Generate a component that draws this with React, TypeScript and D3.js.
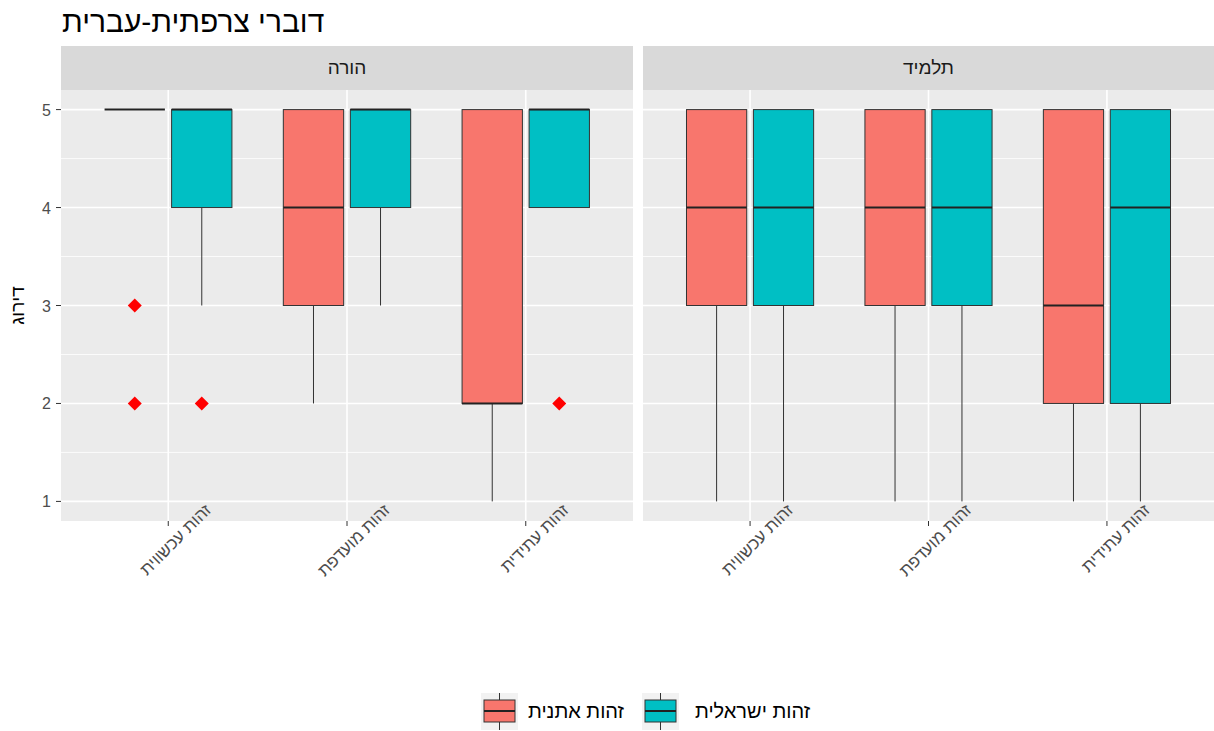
import React from "react";
import * as d3 from "d3";

// Facet (role) names, x categories and fill groups
const roles = ["הורה", "תלמיד"];
const identities = ["זהות עכשווית", "זהות מועדפת", "זהות עתידית"];
const groups = ["זהות אתנית", "זהות ישראלית"];
const groupColors = ["#F8766D", "#00BFC4"];
const yTicks = [1, 2, 3, 4, 5];

// Box summaries per identity: [lower whisker, Q1, median, Q3, upper whisker]
const parentEthnic = [
  [5, 5, 5, 5, 5],
  [2, 3, 4, 5, 5],
  [1, 2, 2, 5, 5],
];
const parentIsraeli = [
  [3, 4, 5, 5, 5],
  [3, 4, 5, 5, 5],
  [4, 4, 5, 5, 5],
];
const studentEthnic = [
  [1, 3, 4, 5, 5],
  [1, 3, 4, 5, 5],
  [1, 2, 3, 5, 5],
];
const studentIsraeli = [
  [1, 3, 4, 5, 5],
  [1, 3, 4, 5, 5],
  [1, 2, 4, 5, 5],
];
// Outlying ratings per identity
const parentEthnicOutliers = [[3, 2], [], []];
const parentIsraeliOutliers = [[2], [], [2]];
const studentEthnicOutliers = [[], [], []];
const studentIsraeliOutliers = [[], [], []];

const panelStats = [
  [parentEthnic, parentIsraeli],
  [studentEthnic, studentIsraeli],
];
const panelOutliers = [
  [parentEthnicOutliers, parentIsraeliOutliers],
  [studentEthnicOutliers, studentIsraeliOutliers],
];

const W = 1214;
const H = 731;
const FONT = "'Liberation Sans', Arial, sans-serif";
const panelX: [number, number][] = [
  [61, 633],
  [643, 1214],
];
const stripTop = 46;
const panelTop = 90;
const panelBottom = 521;

export default function App() {
  const y = d3.scaleLinear().domain([0.8, 5.2]).range([panelBottom, panelTop]);
  const minorY = [1.5, 2.5, 3.5, 4.5];
  const dodge = 0.75;
  const boxW = (dodge / 2) * 0.9;

  return (
    <svg
      width={W}
      height={H}
      style={{ position: "absolute", left: 0, top: 0, background: "#fff" }}
      fontFamily={FONT}
    >
      <text x={62} y={32} fontSize={30} fill="#000">
        דוברי צרפתית-עברית
      </text>

      {roles.map((role, p) => {
        const [x0, x1] = panelX[p];
        const x = d3.scaleLinear().domain([0.4, 3.6]).range([x0, x1]);
        const unit = x(1) - x(0);
        return (
          <g key={role}>
            <rect x={x0} y={stripTop} width={x1 - x0} height={panelTop - stripTop} fill="#D9D9D9" />
            <text
              x={(x0 + x1) / 2}
              y={(stripTop + panelTop) / 2 + 6}
              textAnchor="middle"
              fontSize={19}
              fill="#1A1A1A"
            >
              {role}
            </text>
            <rect x={x0} y={panelTop} width={x1 - x0} height={panelBottom - panelTop} fill="#EBEBEB" />
            {minorY.map((v) => (
              <line key={"mn" + v} x1={x0} x2={x1} y1={y(v)} y2={y(v)} stroke="#fff" strokeWidth={0.8} />
            ))}
            {yTicks.map((v) => (
              <line key={"mj" + v} x1={x0} x2={x1} y1={y(v)} y2={y(v)} stroke="#fff" strokeWidth={1.6} />
            ))}
            {identities.map((id, i) => (
              <line
                key={"vx" + i}
                x1={x(i + 1)}
                x2={x(i + 1)}
                y1={panelTop}
                y2={panelBottom}
                stroke="#fff"
                strokeWidth={1.6}
              />
            ))}

            {identities.map((id, i) =>
              groups.map((g, gi) => {
                const s = panelStats[p][gi][i];
                const cx = x(i + 1) + (gi === 0 ? -1 : 1) * (dodge / 4) * unit;
                const bw = boxW * unit;
                const [lo, q1, med, q3, hi] = s;
                return (
                  <g key={id + g}>
                    <line x1={cx} x2={cx} y1={y(hi)} y2={y(q3)} stroke="#333" strokeWidth={1} />
                    <line x1={cx} x2={cx} y1={y(q1)} y2={y(lo)} stroke="#333" strokeWidth={1} />
                    <rect
                      x={cx - bw / 2}
                      y={y(q3)}
                      width={bw}
                      height={y(q1) - y(q3)}
                      fill={groupColors[gi]}
                      stroke="#333"
                      strokeWidth={1}
                    />
                    <line
                      x1={cx - bw / 2}
                      x2={cx + bw / 2}
                      y1={y(med)}
                      y2={y(med)}
                      stroke="#222"
                      strokeWidth={2}
                    />
                    {panelOutliers[p][gi][i].map((v, k) => (
                      <path
                        key={k}
                        d={`M${cx},${y(v) - 7}L${cx + 7},${y(v)}L${cx},${y(v) + 7}L${cx - 7},${y(v)}Z`}
                        fill="#FF0000"
                      />
                    ))}
                  </g>
                );
              })
            )}

            {identities.map((id, i) => (
              <g key={"xt" + i}>
                <line x1={x(i + 1)} x2={x(i + 1)} y1={panelBottom} y2={panelBottom + 5} stroke="#333" strokeWidth={1} />
                <text
                  transform={`translate(${x(i + 1) + 44},${panelBottom - 10}) rotate(-45)`}
                  textAnchor="end"
                  fontSize={17}
                  fill="#4D4D4D"
                >
                  {id}
                </text>
              </g>
            ))}
          </g>
        );
      })}

      {yTicks.map((v) => (
        <g key={"yt" + v}>
          <line x1={56} x2={61} y1={y(v)} y2={y(v)} stroke="#333" strokeWidth={1} />
          <text x={51} y={y(v) + 6} textAnchor="end" fontSize={16} fill="#4D4D4D">
            {v}
          </text>
        </g>
      ))}
      <text transform={`translate(24,${(panelTop + panelBottom) / 2}) rotate(-90)`} textAnchor="middle" fontSize={19} fill="#000">
        דירוג
      </text>

      {/* legend */}
      {[
        { g: 0, kx: 481, tx: 528 },
        { g: 1, kx: 642, tx: 695 },
      ].map(({ g, kx, tx }) => (
        <g key={"lg" + g}>
          <rect x={kx} y={693} width={37} height={37} fill="#F2F2F2" />
          <line x1={kx + 18.5} x2={kx + 18.5} y1={693} y2={730} stroke="#333" strokeWidth={1} />
          <rect x={kx + 3} y={700} width={31} height={22} fill={groupColors[g]} stroke="#333" strokeWidth={1} />
          <line x1={kx + 3} x2={kx + 34} y1={711} y2={711} stroke="#222" strokeWidth={2} />
          <text x={tx} y={718} fontSize={20} fill="#000">
            {groups[g]}
          </text>
        </g>
      ))}
    </svg>
  );
}
